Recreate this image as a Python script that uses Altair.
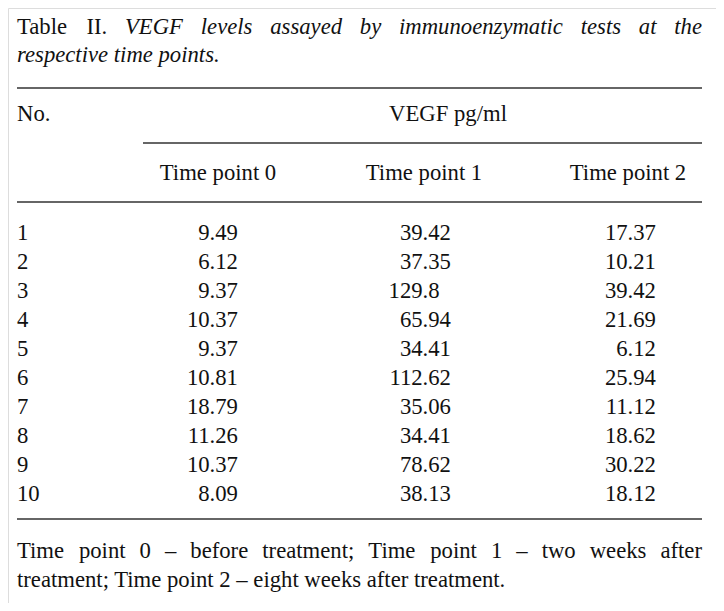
import altair as alt
import pandas as pd

# ---------------- data ----------------
row_no = [1, 2, 3, 4, 5, 6, 7, 8, 9, 10]
tp0 = [9.49, 6.12, 9.37, 10.37, 9.37, 10.81, 18.79, 11.26, 10.37, 8.09]
tp1 = [39.42, 37.35, 129.8, 65.94, 34.41, 112.62, 35.06, 34.41, 78.62, 38.13]
tp2 = [17.37, 10.21, 39.42, 21.69, 6.12, 25.94, 11.12, 18.62, 30.22, 18.12]
col_headers = ["Time point 0", "Time point 1", "Time point 2"]
stub_header = "No."
spanner = "VEGF pg/ml"
title_roman = ["Table", "II."]
title_italic_1 = ["VEGF", "levels", "assayed", "by", "immunoenzymatic", "tests", "at", "the"]
title_italic_2 = "respective time points."
foot_1 = ["Time", "point", "0", "–", "before", "treatment;", "Time", "point", "1", "–", "two", "weeks", "after"]
foot_2 = "treatment; Time point 2 – eight weeks after treatment."

# ---------------- layout ----------------
FONT = "Liberation Serif"
FS = 22.7
INK = "#111111"
W, H = 708, 595
OFF = 8  # page margin

# Times advance widths (per 1000 em) for justification
ROMAN = {" ": 250, "T": 611, "a": 444, "b": 500, "l": 278, "e": 444, "I": 333, ".": 250,
         "i": 278, "m": 778, "p": 500, "o": 500, "n": 500, "t": 278, "0": 500, "1": 500,
         "2": 500, "–": 500, "f": 333, "r": 333, "w": 722, "k": 500, "s": 389, ";": 278,
         "h": 500, "g": 500, "y": 500, "d": 500, "c": 444, "u": 500}
ITALIC = {" ": 250, "V": 611, "E": 611, "G": 722, "F": 611, "l": 278, "e": 444, "v": 444,
          "s": 389, "a": 500, "y": 444, "d": 500, "b": 500, "i": 278, "m": 722, "u": 500,
          "n": 500, "o": 500, "z": 389, "t": 278, "c": 444, "h": 500, "r": 389, "p": 500,
          ".": 250}


def wwidth(word, table):
    return sum(table.get(ch, 500) for ch in word) / 1000 * FS


def justify(words, x0, x1):
    """words: list of (text, style). returns positions for a justified line."""
    tables = {"normal": ROMAN, "italic": ITALIC}
    widths = [wwidth(t, tables[s]) for t, s in words]
    gap = (x1 - x0 - sum(widths)) / (len(words) - 1)
    out, x = [], x0
    for (t, s), w in zip(words, widths):
        out.append({"x": x, "t": t, "s": s})
        x += w + gap
    return out


LEFT, RIGHT = 17 - OFF, 702 - OFF
xs = alt.Scale(domain=[0, W], range=[0, W])


def text_layer(df, baseline_y, style="normal", align="left"):
    return alt.Chart(df).mark_text(
        font=FONT, fontSize=FS, fontStyle=style, align=align, baseline="alphabetic", color=INK
    ).encode(x=alt.X("x:Q", scale=xs, axis=None), y=alt.value(baseline_y), text="t:N")


layers = []

# title line 1 (justified)
t1 = justify([(w, "normal") for w in title_roman] + [(w, "italic") for w in title_italic_1], LEFT, RIGHT)
t1df = pd.DataFrame(t1)
for st in ["normal", "italic"]:
    layers.append(text_layer(t1df[t1df.s == st], 34 - OFF, st))
# title line 2
layers.append(text_layer(pd.DataFrame([{"x": LEFT, "t": title_italic_2}]), 62 - OFF, "italic"))

# rules
rules = pd.DataFrame([
    {"x": LEFT, "x2": RIGHT, "y": 88 - OFF},
    {"x": 143 - OFF, "x2": RIGHT, "y": 143 - OFF},
    {"x": LEFT, "x2": RIGHT, "y": 202 - OFF},
    {"x": LEFT, "x2": RIGHT, "y": 519 - OFF},
])
layers.append(alt.Chart(rules).mark_rule(color="#333333", strokeWidth=1.6).encode(
    x=alt.X("x:Q", scale=xs, axis=None), x2="x2:Q",
    y=alt.Y("y:Q", scale=alt.Scale(domain=[0, H], range=[0, H]), axis=None)))

# header rows
layers.append(text_layer(pd.DataFrame([{"x": LEFT, "t": stub_header}]), 121 - OFF))
layers.append(text_layer(pd.DataFrame([{"x": 448 - OFF, "t": spanner}]), 121 - OFF, align="center"))
hdr_x = [218 - OFF, 424 - OFF, 628 - OFF]
layers.append(text_layer(pd.DataFrame({"x": hdr_x, "t": col_headers}), 180 - OFF, align="center"))

# body
row_scale = alt.Scale(domain=[1, 10], range=[239.5 - OFF, 500.5 - OFF])
body_style = dict(font=FONT, fontSize=FS, baseline="alphabetic", color=INK)
layers.append(alt.Chart(pd.DataFrame({"row": row_no, "t": [str(r) for r in row_no]})).mark_text(
    align="left", **body_style).encode(
    x=alt.value(LEFT), y=alt.Y("row:Q", scale=row_scale, axis=None), text="t:N"))

dec_x = [209.6 - OFF, 422.6 - OFF, 627.6 - OFF]  # decimal point positions
for series, dx in zip([tp0, tp1, tp2], dec_x):
    s = [str(v) for v in series]
    cdf = pd.DataFrame({"row": row_no,
                        "ip": [v.split(".")[0] for v in s],
                        "fp": ["." + v.split(".")[1] for v in s]})
    layers.append(alt.Chart(cdf).mark_text(align="right", **body_style).encode(
        x=alt.value(dx), y=alt.Y("row:Q", scale=row_scale, axis=None), text="ip:N"))
    layers.append(alt.Chart(cdf).mark_text(align="left", **body_style).encode(
        x=alt.value(dx), y=alt.Y("row:Q", scale=row_scale, axis=None), text="fp:N"))

# footnote
f1 = pd.DataFrame(justify([(w, "normal") for w in foot_1], LEFT, RIGHT))
layers.append(text_layer(f1, 558 - OFF))
layers.append(text_layer(pd.DataFrame([{"x": LEFT, "t": foot_2}]), 587 - OFF))

chart = alt.layer(*layers).resolve_scale(y="independent", x="independent").properties(
    width=W, height=H, padding=0, autosize=alt.AutoSizeParams(type="none")
).configure_view(stroke=None).configure(background="white")

chart.save("out.html", embed_options={"renderer": "svg", "actions": False})
